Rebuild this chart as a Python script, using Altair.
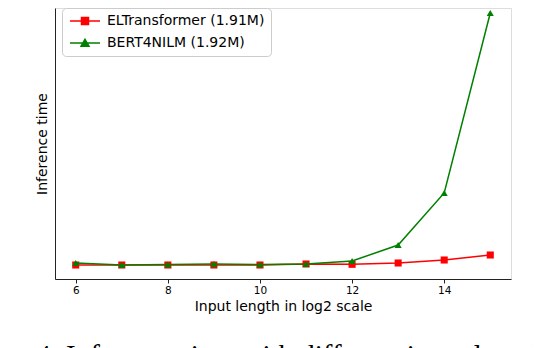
import altair as alt
import pandas as pd

input_len = [6, 7, 8, 9, 10, 11, 12, 13, 14, 15]
eltransformer = [14, 14, 14, 14, 14, 15, 14.7, 16, 19, 24]
bert4nilm = [16, 14, 14.5, 15, 14.5, 15, 18, 34, 86, 266]
series_names = ["ELTransformer (1.91M)", "BERT4NILM (1.92M)"]
series_colors = ["#ff0000", "#008000"]
series_shapes = ["square", "triangle-up"]
x_ticks = [6, 8, 10, 12, 14]
caption = "Fig. 4: Inference time with different input length and model size."

rows = []
for name, vals in zip(series_names, [eltransformer, bert4nilm]):
    for x, v in zip(input_len, vals):
        rows.append({"x": x, "y": v, "series": name})
df = pd.DataFrame(rows)

# legend glyphs: a short line with the marker in its middle
sq = "M-1,0H5M1.3,-0.7H2.7V0.7H1.3Z"
tri = "M-1,0H5M2,-0.75L2.8,0.65H1.2Z"

x_enc = alt.X("x:Q", scale=alt.Scale(domain=[5.55, 15.45], nice=False, zero=False),
              axis=alt.Axis(values=x_ticks, title="Input length in log2 scale", grid=False,
                            labelFontSize=10.5, titleFontSize=14, labelFont="DejaVu Sans",
                            titleFont="DejaVu Sans", titleFontWeight="normal",
                            tickSize=4, labelPadding=2, titlePadding=4,
                            domainColor="#222222", tickColor="#222222",
                            labelColor="#000000", titleColor="#000000", format="d"))
y_enc = alt.Y("y:Q", scale=alt.Scale(domain=[0, 271], nice=False, zero=False),
              axis=alt.Axis(title="Inference time", grid=False, labels=False, ticks=False,
                            titleFontSize=14, titleFont="DejaVu Sans", titleFontWeight="normal",
                            titlePadding=6, domainColor="#222222", titleColor="#000000"))
color_scale = alt.Scale(domain=series_names, range=series_colors)

legend = alt.Legend(
    title=None, orient="none", legendX=7, legendY=0,
    labelFont="DejaVu Sans", labelFontSize=14, labelColor="#000000",
    symbolSize=100, labelOffset=25, padding=6, rowPadding=8,
    strokeColor="#cccccc", fillColor="#ffffff", cornerRadius=4,
    labelLimit=400, symbolOpacity=1, symbolStrokeWidth=1.5,
)

base = alt.Chart(df)
layers = []
for name, col, shp in zip(series_names, series_colors, series_shapes):
    sub = base.transform_filter(alt.datum.series == name)
    layers.append(sub.mark_line(strokeWidth=1.5, color=col).encode(x=x_enc, y=y_enc))
    layers.append(sub.mark_point(filled=True, size=50, opacity=1, color=col, shape=shp)
                  .encode(x=x_enc, y=y_enc))

carrier = base.mark_point(opacity=0, size=100, filled=True).encode(
    x=x_enc, y=y_enc,
    color=alt.Color("series:N", scale=color_scale, legend=legend, sort=series_names),
    stroke=alt.Stroke("series:N", scale=color_scale, legend=legend, sort=series_names),
    shape=alt.Shape("series:N", scale=alt.Scale(domain=series_names, range=[sq, tri]),
                    legend=legend, sort=series_names),
)
layers.append(carrier)

chart = alt.layer(*layers).properties(
    width=456, height=271,
    autosize=alt.AutoSizeParams(type="none"),
    padding={"left": 47, "top": 0, "right": 21, "bottom": 80},
    title=alt.TitleParams(caption, orient="bottom", anchor="start", font="Liberation Serif",
                          fontSize=29, fontWeight="normal", color="#000000", offset=28, dx=-52),
).configure_view(stroke=None).configure(background="#ffffff")

chart.save("out.html", embed_options={"renderer": "svg", "actions": False})
